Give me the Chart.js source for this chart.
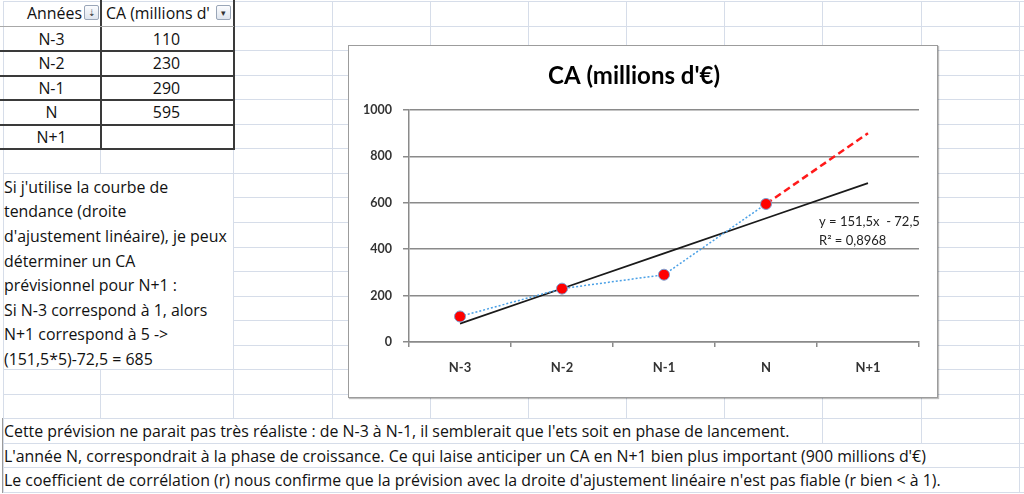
<!DOCTYPE html>
<html>
<head>
<meta charset="utf-8">
<script src="https://cdn.jsdelivr.net/npm/chart.js@4.4.1/dist/chart.umd.min.js"></script>
<style>
  html, body { margin:0; padding:0; background:#fff; }
  body { width:1024px; height:494px; position:relative; overflow:hidden; font-family: "Open Sans", Lato, sans-serif; color:#111; }
  .gl { position:absolute; background:#d6dde9; }
  .dk { position:absolute; background:#3a3a3a; }
  .txt { position:absolute; font-size:15.9px; white-space:nowrap; line-height:24.55px; }
  #box { position:absolute; left:348px; top:45px; width:588px; height:351px; border:1px solid #9c9c9c; background:#fff; box-shadow:1px 1px 1px rgba(0,0,0,0.25); }
  #box canvas { position:absolute; left:0; top:0; }
  .btn { position:absolute; width:13px; height:13px; border:1px solid #9aa6b8; border-radius:2px; background:linear-gradient(#fbfcfe,#dfe5ee); font-size:9px; line-height:13px; text-align:center; color:#333; }
</style>
</head>
<body>
<div id="sheet"></div>
<div id="box"><canvas id="c" width="588" height="351"></canvas></div>
<script>
// ---- data ----
const categories = ["N-3", "N-2", "N-1", "N", "N+1"];
const caValues = [110, 230, 290, 595, null];
const trendValues = [79, 230.5, 382, 533.5, 685];
const forecastValues = [null, null, null, 595, 900];
const yTicks = [0, 200, 400, 600, 800, 1000];
const tableHeaders = ["Années", "CA (millions d'"];
const tableYears = ["N-3", "N-2", "N-1", "N", "N+1"];
const tableCA = ["110", "230", "290", "595", ""];
const noteLines = ["Si j'utilise la courbe de", "tendance (droite", "d'ajustement linéaire), je peux", "déterminer un CA", "prévisionnel pour N+1 :", "Si N-3 correspond à 1, alors", "N+1 correspond à 5 ->", "(151,5*5)-72,5 = 685"];
const bottomLines = ["Cette prévision ne parait pas très réaliste : de N-3 à N-1, il semblerait que l'ets soit en phase de lancement.", "L'année N, correspondrait à la phase de croissance. Ce qui laise anticiper un CA en N+1 bien plus important (900 millions d'€)", "Le coefficient de corrélation (r) nous confirme que la prévision avec la droite d'ajustement linéaire n'est pas fiable (r bien < à 1)."];
const trendLabel = ["y = 151,5x  - 72,5", "R² = 0,8968"];

// ---- spreadsheet grid ----
const sheet = document.getElementById('sheet');
const cols = [3, 100, 233, 332, 430, 528, 626, 724, 822, 921, 1019];
const rowH = 24.55;
const rowY = k => 1 + rowH * k;
function el(cls, l, t, w, h) { const d = document.createElement('div'); d.className = cls; d.style.left = l + 'px'; d.style.top = t + 'px'; d.style.width = w + 'px'; d.style.height = h + 'px'; sheet.appendChild(d); return d; }
for (let k = 0; k <= 20; k++) {
  const y = Math.round(rowY(k));
  if (k >= 8 && k <= 14) { el('gl', 233, y, 1024 - 233, 1); }
  else el('gl', 3, y, 1021, 1);
}
for (let r = 0; r < 20; r++) {
  const y0 = Math.round(rowY(r)), y1 = Math.round(rowY(r + 1));
  cols.forEach(x => {
    if (x === 100 && r >= 7 && r <= 14) return;
    if (r === 17 && x > 3 && x < 800) return;
    if ((r === 18 || r === 19) && x > 3 && x < 1000) return;
    el('gl', x, y0, 1, y1 - y0);
  });
}
el('dk', 100, 0, 1.5, Math.round(rowY(6)) + 1);
el('dk', 233, 0, 1.5, Math.round(rowY(6)) + 1);
for (let k = 2; k <= 6; k++) el('dk', 0, Math.round(rowY(k)), 234.5, 1.5);
const hl = el('gl', 0, Math.round(rowY(1)), 234, 1); hl.style.background = '#a8a8a8';
el('dk', 2, Math.round(rowY(17)), 1, 75).style.background = '#9a9a9a';

function text(s, l, t, w, align, extra) {
  const d = document.createElement('div'); d.className = 'txt'; d.textContent = s;
  d.style.left = l + 'px'; d.style.top = t + 'px';
  if (w) { d.style.width = w + 'px'; d.style.textAlign = align || 'left'; }
  if (extra) Object.assign(d.style, extra);
  sheet.appendChild(d); return d;
}
text(tableHeaders[0], 0, rowY(0), 82, 'right');
text(tableHeaders[1], 106, rowY(0), 110, 'left', {overflow:'hidden'});
const b1 = document.createElement('div'); b1.className = 'btn'; b1.style.left = '84px'; b1.style.top = '5px'; b1.textContent = '⇣'; sheet.appendChild(b1);
const b2 = document.createElement('div'); b2.className = 'btn'; b2.style.left = '216px'; b2.style.top = '5px'; b2.textContent = '▾'; sheet.appendChild(b2);
for (let i = 0; i < tableYears.length; i++) {
  text(tableYears[i], 3, rowY(i + 1) + 1, 97, 'center');
  text(tableCA[i], 100, rowY(i + 1) + 1, 133, 'center');
}
noteLines.forEach((s, i) => text(s, 4, rowY(7) + 2 + i * rowH, 0));
bottomLines.forEach((s, i) => text(s, 4, rowY(17) + 1 + i * rowH, 0));

// ---- chart ----
const FONT = "Lato, 'Open Sans', sans-serif";
const trendLabelPlugin = {
  id: 'trendLabel',
  afterDatasetsDraw(chart) {
    const ctx = chart.ctx, xs = chart.scales.x, ys = chart.scales.y;
    const x = xs.getPixelForValue(3) + 53;
    ctx.save();
    ctx.font = "13px " + FONT;
    ctx.fillStyle = '#222';
    ctx.textBaseline = 'middle';
    ctx.fillText(trendLabel[0], x, ys.getPixelForValue(516));
    ctx.fillText(trendLabel[1], x, ys.getPixelForValue(434));
    ctx.restore();
  }
};
new Chart(document.getElementById('c'), {
  type: 'line',
  data: {
    labels: categories,
    datasets: [
      { data: trendValues, borderColor: '#1a1a1a', borderWidth: 1.8, pointRadius: 0, order: 2 },
      { data: forecastValues, borderColor: '#ff1a1a', borderWidth: 2.5, borderDash: [7, 4], pointRadius: 0, order: 1 },
      { data: caValues, borderColor: '#4aa0e6', borderWidth: 1.5, borderDash: [2, 2], pointRadius: 5.5, pointBackgroundColor: '#ff0000', pointBorderColor: '#7f9fd0', pointBorderWidth: 1, order: 0 }
    ]
  },
  options: {
    responsive: false, animation: false,
    layout: { padding: { left: 0, right: 18, top: 0, bottom: 0 } },
    plugins: {
      legend: { display: false }, tooltip: { enabled: false },
      title: { display: true, text: "CA (millions d'€)", color: '#000', font: { family: FONT, size: 24, weight: 'bold', lineHeight: 1.2 }, padding: { top: 16, bottom: 19.2 } }
    },
    scales: {
      x: {
        offset: true,
        grid: { offset: true, drawOnChartArea: false, drawTicks: true, tickLength: 5, color: '#8a8a8a', lineWidth: 1.5 },
        border: { color: '#8a8a8a', width: 1.5 },
        ticks: { color: '#333', padding: 13, font: { family: FONT, size: 13, weight: 'bold' }, maxRotation: 0 },
        afterFit: s => { s.height = 55; }
      },
      y: {
        min: 0, max: 1000,
        afterBuildTicks: s => { s.ticks = yTicks.map(v => ({ value: v })); },
        grid: { color: '#8a8a8a', lineWidth: 1.5, tickLength: 6 },
        border: { color: '#8a8a8a', width: 1.5 },
        ticks: { color: '#333', padding: 11, font: { family: FONT, size: 12.5, weight: 'bold' }, callback: v => String(v) },
        afterFit: s => { s.width = 60; }
      }
    }
  },
  plugins: [trendLabelPlugin]
});
</script>
</body>
</html>
